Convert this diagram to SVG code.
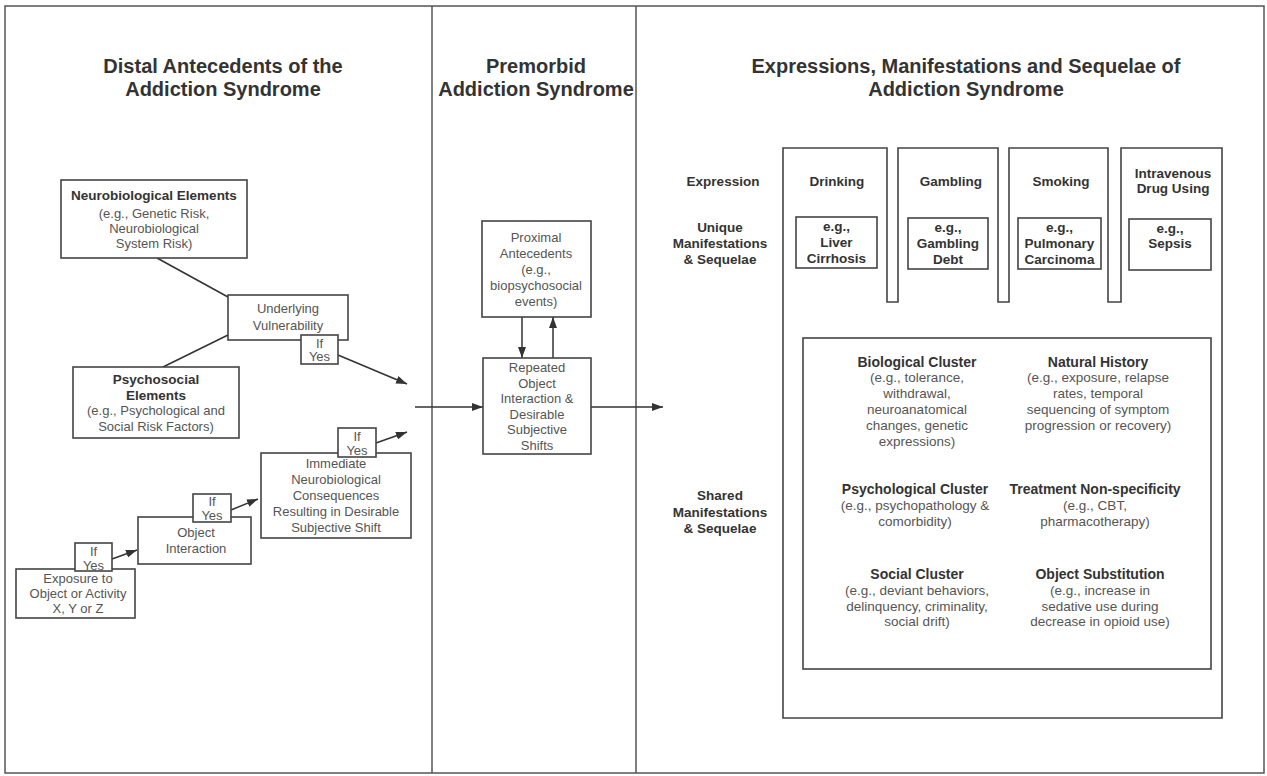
<svg xmlns="http://www.w3.org/2000/svg" width="1267" height="776" viewBox="0 0 1267 776">
<defs>
<marker id="ah" markerUnits="userSpaceOnUse" markerWidth="11" markerHeight="8" refX="11" refY="4" orient="auto">
<path d="M0,0 L11,4 L0,8 Z" fill="#333"/>
</marker>
<style>
text{font-family:"Liberation Sans",Arial,sans-serif;text-anchor:middle;}
.t{font-size:20px;font-weight:bold;fill:#333;}
.b{font-size:13.5px;font-weight:bold;fill:#333;}
.bb{font-size:14px;font-weight:bold;fill:#333;}
.r{font-size:13px;fill:#555;}
.rr{font-size:13.5px;fill:#555;}
.box{fill:#fff;stroke:#444;stroke-width:1.6;}
.ln{fill:none;stroke:#333;stroke-width:1.5;}
.ar{fill:none;stroke:#333;stroke-width:1.5;marker-end:url(#ah);}
.fr{fill:none;stroke:#555;stroke-width:1.5;}
</style>
</defs>
<rect width="1267" height="776" fill="#fff"/>
<g id="frame">
<rect class="fr" x="5" y="6" width="1259" height="767"/>
<line class="fr" x1="432" y1="6" x2="432" y2="773"/>
<line class="fr" x1="636" y1="6" x2="636" y2="773"/>
</g>
<g id="titles">
<text class="t" x="223" y="73">Distal Antecedents of the</text>
<text class="t" x="223" y="96">Addiction Syndrome</text>
<text class="t" x="536" y="73">Premorbid</text>
<text class="t" x="536" y="96">Addiction Syndrome</text>
<text class="t" x="966" y="73">Expressions, Manifestations and Sequelae of</text>
<text class="t" x="966" y="96">Addiction Syndrome</text>
</g>
<g id="connectors">
<line class="ln" x1="157" y1="258" x2="228" y2="297"/>
<line class="ln" x1="228" y1="335" x2="163" y2="367"/>
<line class="ar" x1="338" y1="355" x2="407" y2="384"/>
<line class="ar" x1="376" y1="443" x2="407" y2="432"/>
<line class="ar" x1="231" y1="510" x2="258" y2="499"/>
<line class="ar" x1="112" y1="559" x2="137" y2="550"/>
<line class="ar" x1="415" y1="407" x2="483" y2="407"/>
<line class="ar" x1="522" y1="317" x2="522" y2="358"/>
<line class="ar" x1="553" y1="358" x2="553" y2="317"/>
<line class="ar" x1="591" y1="407" x2="663" y2="407"/>
</g>
<g id="neurobiological">
<rect class="box" x="61" y="180" width="186" height="78"/>
<text x="154" y="200" class="b">Neurobiological Elements</text>
<text x="154" class="r"><tspan x="154" y="218">(e.g., Genetic Risk,</tspan><tspan x="154" y="233">Neurobiological</tspan><tspan x="154" y="248">System Risk)</tspan></text>
</g>
<g id="underlying">
<rect class="box" x="228" y="295" width="120" height="45"/>
<text class="r"><tspan x="288" y="313">Underlying</tspan><tspan x="288" y="330">Vulnerability</tspan></text>
</g>
<g id="ifyes1">
<rect class="box" x="301" y="335" width="37" height="29"/>
<text class="r"><tspan x="319.5" y="347.5">If</tspan><tspan x="319.5" y="361">Yes</tspan></text>
</g>
<g id="psychosocial">
<rect class="box" x="73" y="367" width="166" height="71"/>
<text class="b"><tspan x="156" y="384">Psychosocial</tspan><tspan x="156" y="400">Elements</tspan></text>
<text class="r"><tspan x="156" y="415">(e.g., Psychological and</tspan><tspan x="156" y="431">Social Risk Factors)</tspan></text>
</g>
<g id="immediate">
<rect class="box" x="261" y="453" width="150" height="85"/>
<text class="r"><tspan x="336" y="467.5">Immediate</tspan><tspan x="336" y="483.5">Neurobiological</tspan><tspan x="336" y="499.5">Consequences</tspan><tspan x="336" y="516">Resulting in Desirable</tspan><tspan x="336" y="531.5">Subjective Shift</tspan></text>
</g>
<g id="ifyes2">
<rect class="box" x="338" y="428" width="38" height="29"/>
<text class="r"><tspan x="357" y="441">If</tspan><tspan x="357" y="455">Yes</tspan></text>
</g>
<g id="objectinteraction">
<rect class="box" x="138" y="517" width="113" height="47"/>
<text class="r"><tspan x="196" y="536.5">Object</tspan><tspan x="196" y="552.5">Interaction</tspan></text>
</g>
<g id="ifyes3">
<rect class="box" x="193" y="494" width="38" height="28"/>
<text class="r"><tspan x="212" y="506">If</tspan><tspan x="212" y="519.5">Yes</tspan></text>
</g>
<g id="exposure">
<rect class="box" x="16" y="569" width="119" height="49"/>
<text class="r"><tspan x="78" y="582.5">Exposure to</tspan><tspan x="78" y="597.5">Object or Activity</tspan><tspan x="78" y="613">X, Y or Z</tspan></text>
</g>
<g id="ifyes4">
<rect class="box" x="75" y="543" width="37" height="28"/>
<text class="r"><tspan x="93.5" y="556">If</tspan><tspan x="93.5" y="569.5">Yes</tspan></text>
</g>
<g id="proximal">
<rect class="box" x="482" y="221" width="109" height="96"/>
<text class="r"><tspan x="536" y="241.5">Proximal</tspan><tspan x="536" y="257.5">Antecedents</tspan><tspan x="536" y="273.5">(e.g.,</tspan><tspan x="536" y="289.5">biopsychosocial</tspan><tspan x="536" y="305.5">events)</tspan></text>
</g>
<g id="repeated">
<rect class="box" x="483" y="358" width="108" height="96"/>
<text class="r"><tspan x="537" y="371.5">Repeated</tspan><tspan x="537" y="387.5">Object</tspan><tspan x="537" y="402.5">Interaction &amp;</tspan><tspan x="537" y="418.5">Desirable</tspan><tspan x="537" y="433.5">Subjective</tspan><tspan x="537" y="449.5">Shifts</tspan></text>
</g>
<g id="row-labels">
<text class="b" x="723" y="186">Expression</text>
<text class="b"><tspan x="720" y="232">Unique</tspan><tspan x="720" y="248">Manifestations</tspan><tspan x="720" y="264">&amp; Sequelae</tspan></text>
<text class="b"><tspan x="720" y="500">Shared</tspan><tspan x="720" y="517">Manifestations</tspan><tspan x="720" y="533">&amp; Sequelae</tspan></text>
</g>
<g id="expressions">
<path class="box" d="M783,148 H887 V302 H898 V148 H998 V302 H1009 V148 H1108 V302 H1121 V148 H1222 V718 H783 Z"/>
<text class="b" x="837" y="186">Drinking</text>
<text class="b" x="951" y="186">Gambling</text>
<text class="b" x="1061" y="186">Smoking</text>
<text class="b"><tspan x="1173" y="178">Intravenous</tspan><tspan x="1173" y="193">Drug Using</tspan></text>
</g>
<g id="liver">
<rect class="box" x="796" y="217" width="81" height="51"/>
<text class="b"><tspan x="836.5" y="231">e.g.,</tspan><tspan x="836.5" y="247">Liver</tspan><tspan x="836.5" y="263">Cirrhosis</tspan></text>
</g>
<g id="debt">
<rect class="box" x="908" y="218" width="80" height="51"/>
<text class="b"><tspan x="948" y="232">e.g.,</tspan><tspan x="948" y="248">Gambling</tspan><tspan x="948" y="264">Debt</tspan></text>
</g>
<g id="carcinoma">
<rect class="box" x="1018" y="218" width="83" height="51"/>
<text class="b"><tspan x="1059.5" y="232">e.g.,</tspan><tspan x="1059.5" y="248">Pulmonary</tspan><tspan x="1059.5" y="264">Carcinoma</tspan></text>
</g>
<g id="sepsis">
<rect class="box" x="1129" y="219" width="82" height="51"/>
<text class="b"><tspan x="1170" y="233">e.g.,</tspan><tspan x="1170" y="248">Sepsis</tspan></text>
</g>
<g id="shared">
<rect class="box" x="803" y="338" width="408" height="331"/>
<text class="bb" x="917" y="367">Biological Cluster</text>
<text class="rr"><tspan x="917" y="382">(e.g., tolerance,</tspan><tspan x="917" y="398">withdrawal,</tspan><tspan x="917" y="414">neuroanatomical</tspan><tspan x="917" y="430">changes, genetic</tspan><tspan x="917" y="446">expressions)</tspan></text>
<text class="bb" x="1098" y="367">Natural History</text>
<text class="rr"><tspan x="1098" y="382">(e.g., exposure, relapse</tspan><tspan x="1098" y="398">rates, temporal</tspan><tspan x="1098" y="414">sequencing of symptom</tspan><tspan x="1098" y="430">progression or recovery)</tspan></text>
<text class="bb" x="915" y="494">Psychological Cluster</text>
<text class="rr"><tspan x="915" y="510">(e.g., psychopathology &amp;</tspan><tspan x="915" y="526">comorbidity)</tspan></text>
<text class="bb" x="1095" y="494">Treatment Non-specificity</text>
<text class="rr"><tspan x="1095" y="510">(e.g., CBT,</tspan><tspan x="1095" y="526">pharmacotherapy)</tspan></text>
<text class="bb" x="917" y="579">Social Cluster</text>
<text class="rr"><tspan x="917" y="595">(e.g., deviant behaviors,</tspan><tspan x="917" y="611">delinquency, criminality,</tspan><tspan x="917" y="626">social drift)</tspan></text>
<text class="bb" x="1100" y="579">Object Substitution</text>
<text class="rr"><tspan x="1100" y="595">(e.g., increase in</tspan><tspan x="1100" y="611">sedative use during</tspan><tspan x="1100" y="626">decrease in opioid use)</tspan></text>
</g>
</svg>
